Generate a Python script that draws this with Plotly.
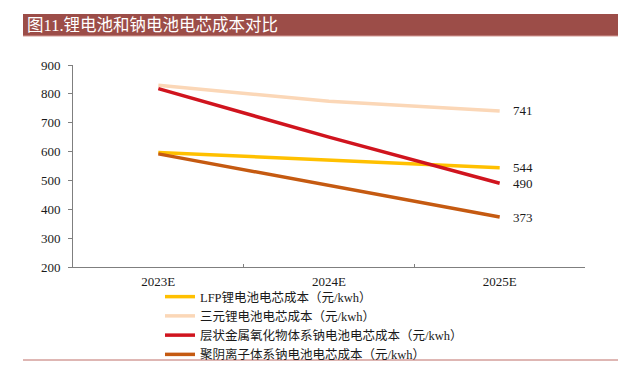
import plotly.graph_objects as go

# ---- data ----
years = ["2023E", "2024E", "2025E"]
lfp = [597, 572, 544]
ternary = [830, 774, 741]
layered_na = [818, 650, 490]
polyanion_na = [592, 483, 373]

series_names = [
    "LFP锂电池电芯成本（元/kwh）",
    "三元锂电池电芯成本（元/kwh）",
    "层状金属氧化物体系钠电池电芯成本（元/kwh）",
    "聚阴离子体系钠电池电芯成本（元/kwh）",
]
series_values = [lfp, ternary, layered_na, polyanion_na]
series_colors = ["#FFC000", "#FBD7B7", "#D0141E", "#C55A11"]

title_text = "图11.锂电池和钠电池电芯成本对比"
y_ticks = [200, 300, 400, 500, 600, 700, 800, 900]

# ---- layout geometry (screen pixels; page body has an 8px margin) ----
OFF = 8
W, H = 628 - OFF, 370 - OFF
PL, PR, PT, PB = 73, 585, 65, 267          # plot area in screen pixels
ML, MT = PL - OFF, PT - OFF
MR, MB = 628 - PR, 370 - PB
PW = PR - PL
PH = PB - PT


def px2x(px):
    return (px - PL) / PW


def py2y(py):
    return (PB - py) / PH


SERIF = "Liberation Serif, Noto Sans CJK SC"

fig = go.Figure()
for name, vals, col in zip(series_names, series_values, series_colors):
    fig.add_trace(go.Scatter(
        x=years, y=vals, name=name, mode="lines",
        line=dict(color=col, width=3.5),
    ))
    fig.add_annotation(
        x=years[-1], y=vals[-1], text=str(vals[-1]), showarrow=False,
        xanchor="left", yanchor="middle", xshift=11,
        font=dict(family=SERIF, size=13, color="#1a1a1a"),
    )

# header bar
fig.add_shape(type="rect", xref="paper", yref="paper",
              x0=px2x(23), x1=px2x(618), y0=py2y(36), y1=py2y(14),
              fillcolor="#9C4D48", line=dict(width=0), layer="below")
fig.add_shape(type="line", xref="paper", yref="paper",
              x0=px2x(23), x1=px2x(618), y0=py2y(36), y1=py2y(36),
              line=dict(color="#D49A94", width=1))
fig.add_annotation(
    xref="paper", yref="paper", x=px2x(25), y=py2y(25.5),
    text=title_text, showarrow=False, xanchor="left", yanchor="middle",
    font=dict(family=SERIF, size=16.5, color="white"),
)
# bottom rule
fig.add_shape(type="line", xref="paper", yref="paper",
              x0=px2x(23), x1=px2x(618), y0=py2y(360), y1=py2y(360),
              line=dict(color="#BE6E68", width=1))

axis_col = "#7F7F7F"
fig.update_layout(
    width=W, height=H,
    margin=dict(l=ML, r=MR, t=MT, b=MB, pad=0, autoexpand=False),
    paper_bgcolor="white", plot_bgcolor="white",
    showlegend=True,
    legend=dict(
        x=px2x(160), y=py2y(282), xanchor="left", yanchor="top",
        font=dict(family=SERIF, size=12.5, color="#1a1a1a"),
        bgcolor="rgba(0,0,0,0)", tracegroupgap=0,
    ),
    xaxis=dict(
        type="category", range=[-0.5, 2.5], showgrid=False,
        showline=True, linecolor=axis_col, linewidth=1,
        ticks="inside", ticklen=3, tickcolor=axis_col, tickson="boundaries",
        tickfont=dict(family=SERIF, size=13, color="#1a1a1a"),
        ticklabelstandoff=2,
        zeroline=False, fixedrange=True,
    ),
    yaxis=dict(
        range=[200, 900], tickvals=y_ticks, showgrid=False,
        showline=True, linecolor=axis_col, linewidth=1,
        ticks="outside", ticklen=4, tickcolor=axis_col,
        tickfont=dict(family=SERIF, size=13, color="#1a1a1a"),
        ticklabelstandoff=5,
        zeroline=False, fixedrange=True,
    ),
)

fig.write_html("out.html")
